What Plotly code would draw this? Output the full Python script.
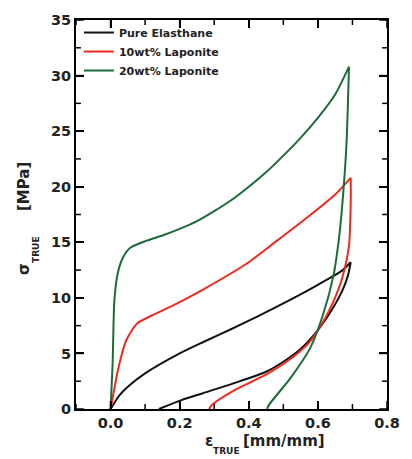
import plotly.graph_objects as go

# ---- data ----
pure_load_x = [0.0, 0.01, 0.025, 0.05, 0.1, 0.2, 0.27, 0.35, 0.42, 0.5, 0.57, 0.63, 0.67, 0.695]
pure_load_y = [0.0, 0.5, 1.2, 2.0, 3.2, 5.0, 6.05, 7.2, 8.25, 9.5, 10.65, 11.7, 12.45, 13.2]
pure_unl_x = [0.695, 0.687, 0.67, 0.64, 0.6, 0.55, 0.5, 0.45, 0.36, 0.265, 0.205, 0.14]
pure_unl_y = [13.2, 12.0, 10.6, 8.9, 7.1, 5.4, 4.25, 3.35, 2.35, 1.4, 0.8, 0.0]

lap10_load_x = [0.0, 0.005, 0.012, 0.02, 0.03, 0.043, 0.06, 0.077, 0.125, 0.18, 0.265, 0.39, 0.48, 0.58, 0.65, 0.695]
lap10_load_y = [0.0, 0.8, 2.0, 3.3, 4.6, 6.0, 7.0, 7.7, 8.5, 9.3, 10.7, 13.0, 15.1, 17.5, 19.3, 20.8]
lap10_unl_x = [0.695, 0.695, 0.69, 0.675, 0.66, 0.627, 0.578, 0.541, 0.456, 0.359, 0.293, 0.285]
lap10_unl_y = [20.8, 18.6, 14.7, 12.3, 10.8, 8.5, 6.1, 5.0, 3.2, 1.7, 0.35, 0.0]

lap20_load_x = [0.0, 0.003, 0.006, 0.011, 0.02, 0.034, 0.057, 0.105, 0.154, 0.2, 0.25, 0.3, 0.35, 0.4, 0.45, 0.5, 0.55, 0.6, 0.65, 0.69]
lap20_load_y = [0.0, 2.0, 4.1, 9.7, 12.1, 13.5, 14.5, 15.15, 15.65, 16.2, 16.9, 17.8, 18.8, 20.0, 21.3, 22.8, 24.4, 26.2, 28.3, 30.8]
lap20_unl_x = [0.69, 0.683, 0.675, 0.663, 0.645, 0.615, 0.578, 0.521, 0.458, 0.453]
lap20_unl_y = [30.8, 24.0, 20.1, 15.9, 12.0, 8.5, 5.5, 2.8, 0.35, 0.0]

names = ["Pure Elasthane", "10wt% Laponite", "20wt% Laponite"]
colors = ["#111111", "#ee2a1c", "#1d6a3a"]

x_ticks = [0.0, 0.2, 0.4, 0.6, 0.8]
y_ticks = [0, 5, 10, 15, 20, 25, 30, 35]

series = [
    (pure_load_x, pure_load_y, pure_unl_x, pure_unl_y),
    (lap10_load_x, lap10_load_y, lap10_unl_x, lap10_unl_y),
    (lap20_load_x, lap20_load_y, lap20_unl_x, lap20_unl_y),
]

X_RANGE = [-0.1, 0.8]
Y_RANGE = [0, 35]

W, H = 412, 459
L, R, T, B = 76, 394, 15, 409
ml, mr, mt, mb = L, W - R, T, H - B
pw, ph = R - L, B - T


def px(x):
    return (x - L) / pw


def py(y):
    return (B - y) / ph


fig = go.Figure()

# tick marks on all four sides, drawn as thin line traces through the axes' own scales
x_span = X_RANGE[1] - X_RANGE[0]
y_span = Y_RANGE[1] - Y_RANGE[0]
x_minor = [x_ticks[0] - (x_ticks[1] - x_ticks[0]) / 2] + [(a + b) / 2 for a, b in zip(x_ticks[:-1], x_ticks[1:])]
y_minor = [(a + b) / 2 for a, b in zip(y_ticks[:-1], y_ticks[1:])]
tx, ty = [], []
for vals, ln in ((x_ticks, 8), (x_minor, 5)):
    d = y_span * ln / ph
    for v in vals:
        tx += [v, v, None, v, v, None]
        ty += [Y_RANGE[0], Y_RANGE[0] + d, None, Y_RANGE[1], Y_RANGE[1] - d, None]
for vals, ln in ((y_ticks, 8), (y_minor, 5)):
    d = x_span * ln / pw
    for v in vals:
        tx += [X_RANGE[0], X_RANGE[0] + d, None, X_RANGE[1], X_RANGE[1] - d, None]
        ty += [v, v, None, v, v, None]
fig.add_trace(go.Scatter(x=tx, y=ty, mode="lines", line=dict(color="black", width=1.5),
                         showlegend=False, hoverinfo="skip", cliponaxis=False, connectgaps=False))

for (lx, ly, ux, uy), name, col in zip(series, names, colors):
    fig.add_trace(go.Scatter(x=lx, y=ly, mode="lines", name="<b>%s</b>" % name, legendgroup=name,
                             line=dict(color=col, width=2, shape="spline", smoothing=0.7)))
    fig.add_trace(go.Scatter(x=ux, y=uy, mode="lines", name=name, legendgroup=name, showlegend=False,
                             line=dict(color=col, width=2, shape="spline", smoothing=0.7)))

FONT = "DejaVu Sans, sans-serif"

fig.update_layout(
    width=W, height=H,
    margin=dict(l=ml, r=mr, t=mt, b=mb),
    plot_bgcolor="white",
    xaxis=dict(range=X_RANGE, tickvals=x_ticks, ticktext=["<b>%.1f</b>" % v for v in x_ticks],
               ticks="inside", ticklen=8, tickwidth=2, tickcolor="black",
               showline=True, linecolor="black", linewidth=2, mirror="allticks",
               tickfont=dict(family=FONT, size=14.5, color="#222")),
    yaxis=dict(range=Y_RANGE, tickvals=y_ticks, ticktext=["<b>%d</b>" % v for v in y_ticks],
               ticks="inside", ticklen=8, tickwidth=2, tickcolor="black",
               showline=True, linecolor="black", linewidth=2, mirror="allticks",
               tickfont=dict(family=FONT, size=14.5, color="#222")),
    legend=dict(x=px(79), y=py(13), xanchor="left", yanchor="top", bgcolor="rgba(0,0,0,0)",
                font=dict(family=FONT, size=11, color="#222"), tracegroupgap=0),
    showlegend=True,
)

ann_font = dict(family=FONT, size=15, color="#222")
sub_font = dict(family=FONT, size=9, color="#222")
annotations = [
    dict(text="<b>ε</b>", x=px(212), y=py(441), font=ann_font),
    dict(text="<b>TRUE</b>", x=px(230), y=py(452), font=sub_font),
    dict(text="<b>[mm/mm]</b>", x=px(289), y=py(441), font=ann_font),
    dict(text="<b>σ</b>", x=px(23), y=py(267), font=ann_font, textangle=-90),
    dict(text="<b>TRUE</b>", x=px(35), y=py(247), font=sub_font, textangle=-90),
    dict(text="<b>[MPa]</b>", x=px(23), y=py(184), font=ann_font, textangle=-90),
]
for a in annotations:
    fig.add_annotation(xref="paper", yref="paper", showarrow=False,
                       xanchor="center", yanchor="middle", **a)

fig.write_html("out.html")
